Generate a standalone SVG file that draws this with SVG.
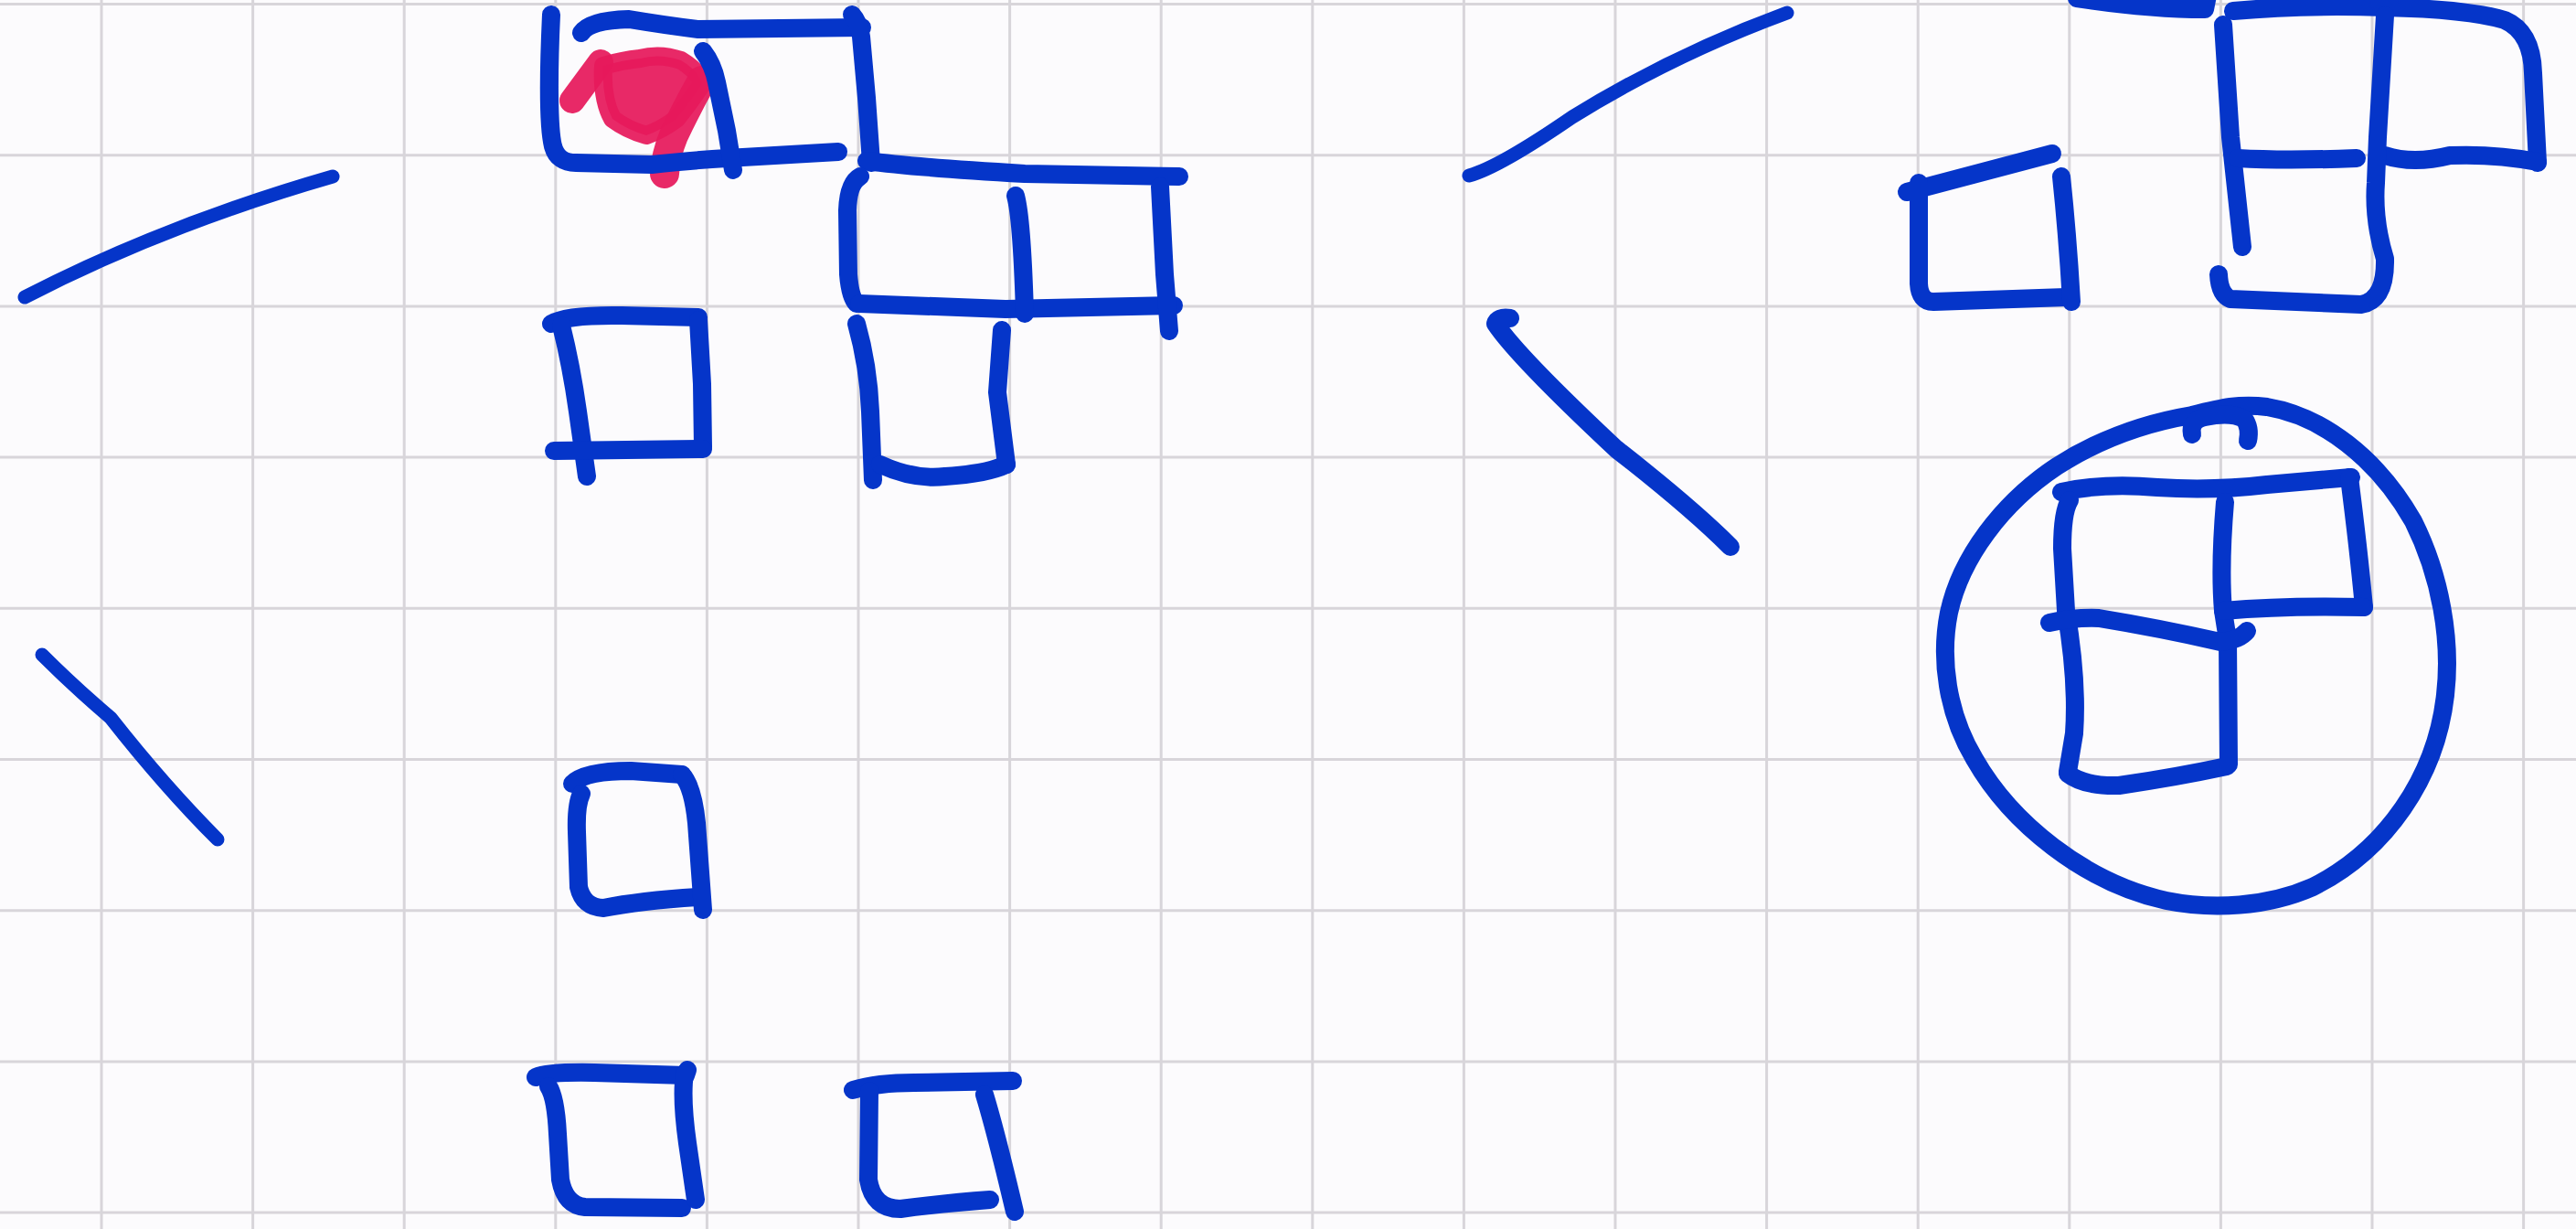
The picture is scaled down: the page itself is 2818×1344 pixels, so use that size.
<svg xmlns="http://www.w3.org/2000/svg" width="2818" height="1344" viewBox="0 0 2818 1344">
<style>
.g{stroke:#d8d5da;stroke-width:3;fill:none}
.p{stroke:#0535c9;stroke-width:20;fill:none;stroke-linecap:round;stroke-linejoin:round}
.t{stroke-width:15}
.r{stroke:#e6195b;fill:none;stroke-linecap:round;stroke-linejoin:round;stroke-opacity:0.93}
</style>
<rect width="2818" height="1344" fill="#fcfbfd"/>
<g id="grid" class="g">
<path d="M111,0V1344M276.6,0V1344M442.2,0V1344M607.8,0V1344M773.4,0V1344M939,0V1344M1104.6,0V1344M1270.2,0V1344M1435.8,0V1344M1601.4,0V1344M1767,0V1344M1932.6,0V1344M2098.2,0V1344M2263.8,0V1344M2429.4,0V1344M2595,0V1344M2760.6,0V1344"/>
<path d="M0,4.5H2818M0,169.7H2818M0,334.9H2818M0,500.1H2818M0,665.3H2818M0,830.5H2818M0,995.7H2818M0,1160.9H2818M0,1326.1H2818"/>
</g>
<g id="left-lines" class="p">
<path class="t" d="M27,325 Q180,246 364,193"/>
<path class="t" d="M46,716 Q80,750 121,785 Q180,860 238,918"/>
</g>
<g id="shape-topleft">
<g class="r">
<path stroke-width="28" d="M626,110 L657,68"/>
<path fill="#e6195b" fill-opacity="0.93" stroke-width="20" d="M660,72 Q680,66 700,64 Q722,58 745,66 Q765,78 768,92 Q750,118 740,130 Q724,142 707,148 Q686,142 670,130 Q658,108 660,72 Z"/>
<path stroke-width="32" d="M768,88 Q750,120 737,148 Q728,170 727,190"/>
</g>
<g class="p">
<path d="M603,16 C600,80 600,140 605,160 Q610,178 630,178 L713,180 Q760,175 795,173 L917,166"/>
<path d="M636,36 Q645,22 688,21 Q730,28 764,32 L943,30"/>
<path d="M932,16 Q940,25 942,40 L948,107 L953,178"/>
<path d="M769,56 Q780,70 784,90 L795,143 L802,186"/>
</g>
</g>
<g id="shape-middle" class="p">
<path d="M948,176 Q1000,183 1121,190 L1290,193"/>
<path d="M941,193 Q928,200 927,230 L928,300 Q930,325 937,332"/>
<path d="M940,332 L1100,338 L1284,334"/>
<path d="M1111,214 Q1118,240 1121,343"/>
<path d="M1269,204 L1274,300 L1279,362"/>
<path d="M937,354 Q950,400 952,450 L955,525"/>
<path d="M963,508 Q1000,525 1034,521 Q1080,518 1101,508"/>
<path d="M1096,361 L1091,429 L1101,508"/>
</g>
<g id="square-1" class="p">
<path d="M603,354 Q620,344 680,345 L764,347"/>
<path d="M614,356 Q625,400 632,450 L642,521"/>
<path d="M764,350 L768,420 L769,489"/>
<path d="M606,493 L769,491"/>
</g>
<g id="square-2" class="p">
<path d="M626,857 Q640,843 690,843 L746,847"/>
<path d="M636,868 Q630,880 631,910 L633,970 Q638,992 660,993 Q700,985 763,981"/>
<path d="M746,847 Q758,860 762,900 L769,995"/>
</g>
<g id="square-3" class="p">
<path d="M586,1178 Q600,1172 650,1173 L750,1176 L752,1170"/>
<path d="M600,1188 Q608,1200 610,1240 L613,1290 Q618,1318 640,1320 L746,1321"/>
<path d="M749,1174 Q745,1200 752,1250 L761,1312"/>
</g>
<g id="square-4" class="p">
<path d="M933,1192 Q960,1184 1000,1184 L1108,1182"/>
<path d="M951,1193 L950,1290 Q955,1322 985,1322 Q1030,1316 1083,1312"/>
<path d="M1077,1197 Q1090,1240 1110,1325"/>
</g>
<g id="right-lines" class="p">
<path class="t" d="M1607,192 Q1640,183 1720,128 Q1830,60 1955,14"/>
<path d="M1652,348 Q1638,346 1636,354 Q1660,390 1768,491 Q1850,555 1893,598"/>
</g>
<g id="square-5" class="p">
<path d="M2086,210 L2245,168"/>
<path d="M2099,200 L2099,310 Q2100,330 2115,330 L2260,325"/>
<path d="M2255,193 Q2262,260 2266,330"/>
</g>
<g id="top-partial" class="p">
<path d="M2272,-2 Q2350,10 2412,10 L2415,-5"/>
</g>
<g id="shape-right" class="p">
<path d="M2443,12 Q2520,5 2609,8 Q2700,10 2740,22 Q2770,35 2771,80 L2776,178"/>
<path d="M2432,27 L2440,150 L2453,270"/>
<path d="M2448,173 Q2500,176 2578,173"/>
<path d="M2609,170 Q2640,180 2680,170 Q2730,168 2776,177"/>
<path d="M2609,17 L2601,150 L2599,200 Q2596,240 2609,283 Q2610,328 2583,333 L2440,327 Q2428,322 2427,300"/>
</g>
<g id="circled-shape" class="p">
<path d="M2398,454 C2430,446 2450,441 2480,445 C2540,455 2600,500 2640,570 C2670,630 2682,700 2675,760 C2665,850 2610,930 2530,970 C2480,992 2420,995 2370,985 C2280,965 2200,900 2160,830 C2130,780 2122,720 2132,670 C2145,610 2190,550 2250,510 C2300,478 2350,462 2398,454"/>
<path d="M2398,475 Q2395,460 2412,456 Q2440,450 2455,458 Q2462,468 2459,482"/>
<path d="M2255,538 Q2300,528 2360,533 Q2420,537 2480,530 L2572,522"/>
<path d="M2264,547 Q2256,560 2256,600 L2260,668 Q2273,744 2269,802 L2262,844"/>
<path d="M2262,846 Q2280,860 2318,859 Q2380,850 2436,838"/>
<path d="M2434,549 Q2428,620 2432,668 L2437,700 L2438,836"/>
<path d="M2570,522 Q2580,600 2586,664"/>
<path d="M2432,668 Q2500,662 2586,664"/>
<path d="M2242,681 Q2270,675 2296,676 Q2363,687 2429,702 Q2450,700 2458,690"/>
</g>
</svg>
